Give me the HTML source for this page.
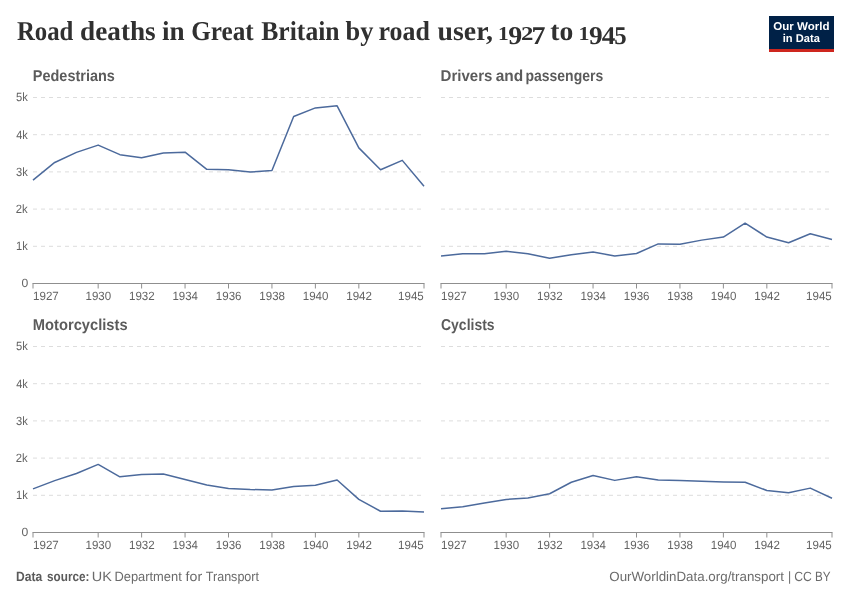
<!DOCTYPE html>
<html lang="en"><head><meta charset="utf-8">
<title>Road deaths in Great Britain by road user, 1927 to 1945</title>
<style>
html,body{margin:0;padding:0;background:#fff;}
body{width:850px;height:600px;overflow:hidden;}
svg{display:block;}
text{text-rendering:geometricPrecision;}
.t{font-family:"Liberation Serif", "Playfair Display", Georgia, serif;font-weight:700;font-size:27.3px;fill:#303030;}
.f{font-family:"Liberation Sans", "Lato", Arial, sans-serif;font-weight:700;font-size:15.8px;fill:#5b5b5b;}
.a{font-family:"Liberation Sans", "Lato", Arial, sans-serif;font-size:12px;fill:#636363;}
.s{font-family:"Liberation Sans", "Lato", Arial, sans-serif;font-size:13.4px;fill:#6b6b6b;}
.sb{font-family:"Liberation Sans", "Lato", Arial, sans-serif;font-size:13.4px;font-weight:700;fill:#5b5b5b;}
.l{font-family:"Liberation Sans", "Lato", Arial, sans-serif;font-weight:700;font-size:11.3px;fill:#fff;}
</style></head><body>
<svg width="850" height="600" viewBox="0 0 850 600">
<rect x="0" y="0" width="850" height="600" fill="#ffffff"/>
<text class="t" y="40.1"><tspan x="16.88" y="40.1" textLength="56.50" lengthAdjust="spacingAndGlyphs">Road</tspan> <tspan x="80.10" y="40.1" textLength="75.57" lengthAdjust="spacingAndGlyphs">deaths</tspan> <tspan x="161.90" y="40.1" textLength="22.61" lengthAdjust="spacingAndGlyphs">in</tspan> <tspan x="191.18" y="40.1" textLength="62.53" lengthAdjust="spacingAndGlyphs">Great</tspan> <tspan x="261.27" y="40.1" textLength="78.31" lengthAdjust="spacingAndGlyphs">Britain</tspan> <tspan x="345.46" y="40.1" textLength="27.89" lengthAdjust="spacingAndGlyphs">by</tspan> <tspan x="378.61" y="40.1" textLength="51.28" lengthAdjust="spacingAndGlyphs">road</tspan> <tspan x="437.60" y="40.1" textLength="55.31" lengthAdjust="spacingAndGlyphs">user,</tspan> <tspan x="498.08" y="40.1" font-size="19.6" textLength="10.73" lengthAdjust="spacingAndGlyphs">1</tspan><tspan x="508.24" y="44.3" font-size="25.6" textLength="13.97" lengthAdjust="spacingAndGlyphs">9</tspan><tspan x="520.96" y="40.1" font-size="19.6" textLength="12.41" lengthAdjust="spacingAndGlyphs">2</tspan><tspan x="531.50" y="44.3" font-size="25.6" textLength="13.98" lengthAdjust="spacingAndGlyphs">7</tspan> <tspan x="550.36" y="40.1" textLength="23.00" lengthAdjust="spacingAndGlyphs">to</tspan> <tspan x="578.44" y="40.1" font-size="19.6" textLength="11.00" lengthAdjust="spacingAndGlyphs">1</tspan><tspan x="589.05" y="44.3" font-size="25.6" textLength="13.63" lengthAdjust="spacingAndGlyphs">9</tspan><tspan x="601.73" y="44.3" font-size="25.6" textLength="13.57" lengthAdjust="spacingAndGlyphs">4</tspan><tspan x="614.21" y="44.3" font-size="25.6" textLength="12.40" lengthAdjust="spacingAndGlyphs">5</tspan></text>
<g>
<rect x="769" y="16" width="65" height="36" fill="#002147"/>
<rect x="769" y="49" width="65" height="3" fill="#ce261e"/>
<text class="l" x="773.33" y="30.3" textLength="56.23" lengthAdjust="spacingAndGlyphs">Our World</text>
<text class="l" x="782.72" y="42.4" textLength="37.11" lengthAdjust="spacingAndGlyphs">in Data</text>
</g>
<g id="ped">
<text y="80.7"><tspan class="f" x="32.83" y="80.7" textLength="82.06" lengthAdjust="spacingAndGlyphs">Pedestrians</tspan></text>
<line x1="33.0" x2="424.0" y1="246.30" y2="246.30" stroke="#dddddd" stroke-width="1" stroke-dasharray="4,4"/>
<text class="a" x="16.05" y="250.1" textLength="11.73" lengthAdjust="spacingAndGlyphs">1k</text>
<line x1="33.0" x2="424.0" y1="209.10" y2="209.10" stroke="#dddddd" stroke-width="1" stroke-dasharray="4,4"/>
<text class="a" x="15.83" y="212.9" textLength="11.95" lengthAdjust="spacingAndGlyphs">2k</text>
<line x1="33.0" x2="424.0" y1="171.90" y2="171.90" stroke="#dddddd" stroke-width="1" stroke-dasharray="4,4"/>
<text class="a" x="15.97" y="175.7" textLength="11.81" lengthAdjust="spacingAndGlyphs">3k</text>
<line x1="33.0" x2="424.0" y1="134.70" y2="134.70" stroke="#dddddd" stroke-width="1" stroke-dasharray="4,4"/>
<text class="a" x="16.15" y="138.5" textLength="11.64" lengthAdjust="spacingAndGlyphs">4k</text>
<line x1="33.0" x2="424.0" y1="97.50" y2="97.50" stroke="#dddddd" stroke-width="1" stroke-dasharray="4,4"/>
<text class="a" x="15.95" y="101.3" textLength="11.83" lengthAdjust="spacingAndGlyphs">5k</text>
<text class="a" x="21.43" y="287.1" textLength="6.75" lengthAdjust="spacingAndGlyphs">0</text>
<line x1="32.5" x2="424.5" y1="283.5" y2="283.5" stroke="#8f8f8f" stroke-width="1"/>
<line x1="33.00" x2="33.00" y1="283.5" y2="288.5" stroke="#8f8f8f" stroke-width="1"/>
<text class="a" x="33.02" y="299.65" textLength="25.76" lengthAdjust="spacingAndGlyphs">1927</text>
<line x1="98.17" x2="98.17" y1="283.5" y2="288.5" stroke="#8f8f8f" stroke-width="1"/>
<text class="a" x="85.54" y="299.65" textLength="25.63" lengthAdjust="spacingAndGlyphs">1930</text>
<line x1="141.61" x2="141.61" y1="283.5" y2="288.5" stroke="#8f8f8f" stroke-width="1"/>
<text class="a" x="128.98" y="299.65" textLength="25.76" lengthAdjust="spacingAndGlyphs">1932</text>
<line x1="185.06" x2="185.06" y1="283.5" y2="288.5" stroke="#8f8f8f" stroke-width="1"/>
<text class="a" x="172.43" y="299.65" textLength="25.51" lengthAdjust="spacingAndGlyphs">1934</text>
<line x1="228.50" x2="228.50" y1="283.5" y2="288.5" stroke="#8f8f8f" stroke-width="1"/>
<text class="a" x="215.87" y="299.65" textLength="25.69" lengthAdjust="spacingAndGlyphs">1936</text>
<line x1="271.94" x2="271.94" y1="283.5" y2="288.5" stroke="#8f8f8f" stroke-width="1"/>
<text class="a" x="259.32" y="299.65" textLength="25.68" lengthAdjust="spacingAndGlyphs">1938</text>
<line x1="315.39" x2="315.39" y1="283.5" y2="288.5" stroke="#8f8f8f" stroke-width="1"/>
<text class="a" x="302.76" y="299.65" textLength="25.63" lengthAdjust="spacingAndGlyphs">1940</text>
<line x1="358.83" x2="358.83" y1="283.5" y2="288.5" stroke="#8f8f8f" stroke-width="1"/>
<text class="a" x="346.20" y="299.65" textLength="25.76" lengthAdjust="spacingAndGlyphs">1942</text>
<line x1="424.00" x2="424.00" y1="283.5" y2="288.5" stroke="#8f8f8f" stroke-width="1"/>
<text class="a" x="398.12" y="299.65" textLength="25.66" lengthAdjust="spacingAndGlyphs">1945</text>
<polyline points="33.00,180.08 54.72,162.45 76.44,152.37 98.17,145.12 119.89,154.68 141.61,157.76 163.33,153.04 185.06,152.18 206.78,169.30 228.50,169.74 250.22,172.09 271.94,170.41 293.67,116.47 315.39,107.92 337.11,105.80 358.83,147.87 380.56,169.74 402.28,160.37 424.00,186.22" fill="none" stroke="#4c6a9c" stroke-width="1.5" stroke-linejoin="round" stroke-linecap="butt"/>
</g>
<g id="drv">
<text y="80.7"><tspan class="f" x="440.59" y="80.7" textLength="51.82" lengthAdjust="spacingAndGlyphs">Drivers</tspan> <tspan class="f" x="495.65" y="80.7" textLength="27.47" lengthAdjust="spacingAndGlyphs">and</tspan> <tspan class="f" x="525.48" y="80.7" textLength="77.69" lengthAdjust="spacingAndGlyphs">passengers</tspan></text>
<line x1="441.0" x2="832.0" y1="246.30" y2="246.30" stroke="#dddddd" stroke-width="1" stroke-dasharray="4,4"/>
<line x1="441.0" x2="832.0" y1="209.10" y2="209.10" stroke="#dddddd" stroke-width="1" stroke-dasharray="4,4"/>
<line x1="441.0" x2="832.0" y1="171.90" y2="171.90" stroke="#dddddd" stroke-width="1" stroke-dasharray="4,4"/>
<line x1="441.0" x2="832.0" y1="134.70" y2="134.70" stroke="#dddddd" stroke-width="1" stroke-dasharray="4,4"/>
<line x1="441.0" x2="832.0" y1="97.50" y2="97.50" stroke="#dddddd" stroke-width="1" stroke-dasharray="4,4"/>
<line x1="440.5" x2="832.5" y1="283.5" y2="283.5" stroke="#8f8f8f" stroke-width="1"/>
<line x1="441.00" x2="441.00" y1="283.5" y2="288.5" stroke="#8f8f8f" stroke-width="1"/>
<text class="a" x="441.02" y="299.65" textLength="25.76" lengthAdjust="spacingAndGlyphs">1927</text>
<line x1="506.17" x2="506.17" y1="283.5" y2="288.5" stroke="#8f8f8f" stroke-width="1"/>
<text class="a" x="493.54" y="299.65" textLength="25.63" lengthAdjust="spacingAndGlyphs">1930</text>
<line x1="549.61" x2="549.61" y1="283.5" y2="288.5" stroke="#8f8f8f" stroke-width="1"/>
<text class="a" x="536.98" y="299.65" textLength="25.76" lengthAdjust="spacingAndGlyphs">1932</text>
<line x1="593.06" x2="593.06" y1="283.5" y2="288.5" stroke="#8f8f8f" stroke-width="1"/>
<text class="a" x="580.43" y="299.65" textLength="25.51" lengthAdjust="spacingAndGlyphs">1934</text>
<line x1="636.50" x2="636.50" y1="283.5" y2="288.5" stroke="#8f8f8f" stroke-width="1"/>
<text class="a" x="623.87" y="299.65" textLength="25.69" lengthAdjust="spacingAndGlyphs">1936</text>
<line x1="679.94" x2="679.94" y1="283.5" y2="288.5" stroke="#8f8f8f" stroke-width="1"/>
<text class="a" x="667.32" y="299.65" textLength="25.68" lengthAdjust="spacingAndGlyphs">1938</text>
<line x1="723.39" x2="723.39" y1="283.5" y2="288.5" stroke="#8f8f8f" stroke-width="1"/>
<text class="a" x="710.76" y="299.65" textLength="25.63" lengthAdjust="spacingAndGlyphs">1940</text>
<line x1="766.83" x2="766.83" y1="283.5" y2="288.5" stroke="#8f8f8f" stroke-width="1"/>
<text class="a" x="754.20" y="299.65" textLength="25.76" lengthAdjust="spacingAndGlyphs">1942</text>
<line x1="832.00" x2="832.00" y1="283.5" y2="288.5" stroke="#8f8f8f" stroke-width="1"/>
<text class="a" x="806.12" y="299.65" textLength="25.66" lengthAdjust="spacingAndGlyphs">1945</text>
<polyline points="441.00,256.12 462.72,253.74 484.44,253.74 506.17,251.21 527.89,253.74 549.61,258.20 571.33,254.71 593.06,252.10 614.78,255.90 636.50,253.52 658.22,243.92 679.94,244.14 701.67,240.12 723.39,237.04 745.11,223.24 766.83,237.04 788.56,242.73 810.28,233.76 832.00,239.42" fill="none" stroke="#4c6a9c" stroke-width="1.5" stroke-linejoin="round" stroke-linecap="butt"/>
</g>
<g id="mot">
<text y="329.7"><tspan class="f" x="32.82" y="329.7" textLength="94.79" lengthAdjust="spacingAndGlyphs">Motorcyclists</tspan></text>
<line x1="33.0" x2="424.0" y1="495.30" y2="495.30" stroke="#dddddd" stroke-width="1" stroke-dasharray="4,4"/>
<text class="a" x="16.05" y="499.1" textLength="11.73" lengthAdjust="spacingAndGlyphs">1k</text>
<line x1="33.0" x2="424.0" y1="458.10" y2="458.10" stroke="#dddddd" stroke-width="1" stroke-dasharray="4,4"/>
<text class="a" x="15.83" y="461.9" textLength="11.95" lengthAdjust="spacingAndGlyphs">2k</text>
<line x1="33.0" x2="424.0" y1="420.90" y2="420.90" stroke="#dddddd" stroke-width="1" stroke-dasharray="4,4"/>
<text class="a" x="15.97" y="424.7" textLength="11.81" lengthAdjust="spacingAndGlyphs">3k</text>
<line x1="33.0" x2="424.0" y1="383.70" y2="383.70" stroke="#dddddd" stroke-width="1" stroke-dasharray="4,4"/>
<text class="a" x="16.15" y="387.5" textLength="11.64" lengthAdjust="spacingAndGlyphs">4k</text>
<line x1="33.0" x2="424.0" y1="346.50" y2="346.50" stroke="#dddddd" stroke-width="1" stroke-dasharray="4,4"/>
<text class="a" x="15.95" y="350.3" textLength="11.83" lengthAdjust="spacingAndGlyphs">5k</text>
<text class="a" x="21.43" y="536.1" textLength="6.75" lengthAdjust="spacingAndGlyphs">0</text>
<line x1="32.5" x2="424.5" y1="532.5" y2="532.5" stroke="#8f8f8f" stroke-width="1"/>
<line x1="33.00" x2="33.00" y1="532.5" y2="537.5" stroke="#8f8f8f" stroke-width="1"/>
<text class="a" x="33.02" y="548.65" textLength="25.76" lengthAdjust="spacingAndGlyphs">1927</text>
<line x1="98.17" x2="98.17" y1="532.5" y2="537.5" stroke="#8f8f8f" stroke-width="1"/>
<text class="a" x="85.54" y="548.65" textLength="25.63" lengthAdjust="spacingAndGlyphs">1930</text>
<line x1="141.61" x2="141.61" y1="532.5" y2="537.5" stroke="#8f8f8f" stroke-width="1"/>
<text class="a" x="128.98" y="548.65" textLength="25.76" lengthAdjust="spacingAndGlyphs">1932</text>
<line x1="185.06" x2="185.06" y1="532.5" y2="537.5" stroke="#8f8f8f" stroke-width="1"/>
<text class="a" x="172.43" y="548.65" textLength="25.51" lengthAdjust="spacingAndGlyphs">1934</text>
<line x1="228.50" x2="228.50" y1="532.5" y2="537.5" stroke="#8f8f8f" stroke-width="1"/>
<text class="a" x="215.87" y="548.65" textLength="25.69" lengthAdjust="spacingAndGlyphs">1936</text>
<line x1="271.94" x2="271.94" y1="532.5" y2="537.5" stroke="#8f8f8f" stroke-width="1"/>
<text class="a" x="259.32" y="548.65" textLength="25.68" lengthAdjust="spacingAndGlyphs">1938</text>
<line x1="315.39" x2="315.39" y1="532.5" y2="537.5" stroke="#8f8f8f" stroke-width="1"/>
<text class="a" x="302.76" y="548.65" textLength="25.63" lengthAdjust="spacingAndGlyphs">1940</text>
<line x1="358.83" x2="358.83" y1="532.5" y2="537.5" stroke="#8f8f8f" stroke-width="1"/>
<text class="a" x="346.20" y="548.65" textLength="25.76" lengthAdjust="spacingAndGlyphs">1942</text>
<line x1="424.00" x2="424.00" y1="532.5" y2="537.5" stroke="#8f8f8f" stroke-width="1"/>
<text class="a" x="398.12" y="548.65" textLength="25.66" lengthAdjust="spacingAndGlyphs">1945</text>
<polyline points="33.00,488.83 54.72,480.61 76.44,473.54 98.17,464.39 119.89,476.85 141.61,474.51 163.33,474.02 185.06,479.45 206.78,485.07 228.50,488.42 250.22,489.53 271.94,490.02 293.67,486.52 315.39,485.33 337.11,479.94 358.83,499.43 380.56,511.22 402.28,510.92 424.00,512.11" fill="none" stroke="#4c6a9c" stroke-width="1.5" stroke-linejoin="round" stroke-linecap="butt"/>
</g>
<g id="cyc">
<text y="329.7"><tspan class="f" x="441.03" y="329.7" textLength="53.55" lengthAdjust="spacingAndGlyphs">Cyclists</tspan></text>
<line x1="441.0" x2="832.0" y1="495.30" y2="495.30" stroke="#dddddd" stroke-width="1" stroke-dasharray="4,4"/>
<line x1="441.0" x2="832.0" y1="458.10" y2="458.10" stroke="#dddddd" stroke-width="1" stroke-dasharray="4,4"/>
<line x1="441.0" x2="832.0" y1="420.90" y2="420.90" stroke="#dddddd" stroke-width="1" stroke-dasharray="4,4"/>
<line x1="441.0" x2="832.0" y1="383.70" y2="383.70" stroke="#dddddd" stroke-width="1" stroke-dasharray="4,4"/>
<line x1="441.0" x2="832.0" y1="346.50" y2="346.50" stroke="#dddddd" stroke-width="1" stroke-dasharray="4,4"/>
<line x1="440.5" x2="832.5" y1="532.5" y2="532.5" stroke="#8f8f8f" stroke-width="1"/>
<line x1="441.00" x2="441.00" y1="532.5" y2="537.5" stroke="#8f8f8f" stroke-width="1"/>
<text class="a" x="441.02" y="548.65" textLength="25.76" lengthAdjust="spacingAndGlyphs">1927</text>
<line x1="506.17" x2="506.17" y1="532.5" y2="537.5" stroke="#8f8f8f" stroke-width="1"/>
<text class="a" x="493.54" y="548.65" textLength="25.63" lengthAdjust="spacingAndGlyphs">1930</text>
<line x1="549.61" x2="549.61" y1="532.5" y2="537.5" stroke="#8f8f8f" stroke-width="1"/>
<text class="a" x="536.98" y="548.65" textLength="25.76" lengthAdjust="spacingAndGlyphs">1932</text>
<line x1="593.06" x2="593.06" y1="532.5" y2="537.5" stroke="#8f8f8f" stroke-width="1"/>
<text class="a" x="580.43" y="548.65" textLength="25.51" lengthAdjust="spacingAndGlyphs">1934</text>
<line x1="636.50" x2="636.50" y1="532.5" y2="537.5" stroke="#8f8f8f" stroke-width="1"/>
<text class="a" x="623.87" y="548.65" textLength="25.69" lengthAdjust="spacingAndGlyphs">1936</text>
<line x1="679.94" x2="679.94" y1="532.5" y2="537.5" stroke="#8f8f8f" stroke-width="1"/>
<text class="a" x="667.32" y="548.65" textLength="25.68" lengthAdjust="spacingAndGlyphs">1938</text>
<line x1="723.39" x2="723.39" y1="532.5" y2="537.5" stroke="#8f8f8f" stroke-width="1"/>
<text class="a" x="710.76" y="548.65" textLength="25.63" lengthAdjust="spacingAndGlyphs">1940</text>
<line x1="766.83" x2="766.83" y1="532.5" y2="537.5" stroke="#8f8f8f" stroke-width="1"/>
<text class="a" x="754.20" y="548.65" textLength="25.76" lengthAdjust="spacingAndGlyphs">1942</text>
<line x1="832.00" x2="832.00" y1="532.5" y2="537.5" stroke="#8f8f8f" stroke-width="1"/>
<text class="a" x="806.12" y="548.65" textLength="25.66" lengthAdjust="spacingAndGlyphs">1945</text>
<polyline points="441.00,508.84 462.72,506.72 484.44,502.96 506.17,499.43 527.89,498.02 549.61,493.77 571.33,482.28 593.06,475.44 614.78,480.38 636.50,476.85 658.22,479.94 679.94,480.61 701.67,481.31 723.39,482.02 745.11,482.28 766.83,490.50 788.56,492.84 810.28,488.12 832.00,498.24" fill="none" stroke="#4c6a9c" stroke-width="1.5" stroke-linejoin="round" stroke-linecap="butt"/>
</g>
<text y="580.7"><tspan class="sb" x="16.09" y="580.7" textLength="26.23" lengthAdjust="spacingAndGlyphs">Data</tspan> <tspan class="sb" x="47.09" y="580.7" textLength="42.34" lengthAdjust="spacingAndGlyphs">source:</tspan> <tspan class="s" x="91.78" y="580.7" textLength="20.08" lengthAdjust="spacingAndGlyphs">UK</tspan> <tspan class="s" x="114.44" y="580.7" textLength="67.35" lengthAdjust="spacingAndGlyphs">Department</tspan> <tspan class="s" x="185.60" y="580.7" textLength="16.54" lengthAdjust="spacingAndGlyphs">for</tspan> <tspan class="s" x="205.82" y="580.7" textLength="53.17" lengthAdjust="spacingAndGlyphs">Transport</tspan></text>
<text y="580.7"><tspan class="s" x="609.27" y="580.7" textLength="174.73" lengthAdjust="spacingAndGlyphs">OurWorldinData.org/transport</tspan> <tspan class="s" x="788.00" y="580.7" textLength="3.20" lengthAdjust="spacingAndGlyphs">|</tspan> <tspan class="s" x="794.28" y="580.7" textLength="17.58" lengthAdjust="spacingAndGlyphs">CC</tspan> <tspan class="s" x="815.04" y="580.7" textLength="15.62" lengthAdjust="spacingAndGlyphs">BY</tspan></text>
</svg>
</body></html>
